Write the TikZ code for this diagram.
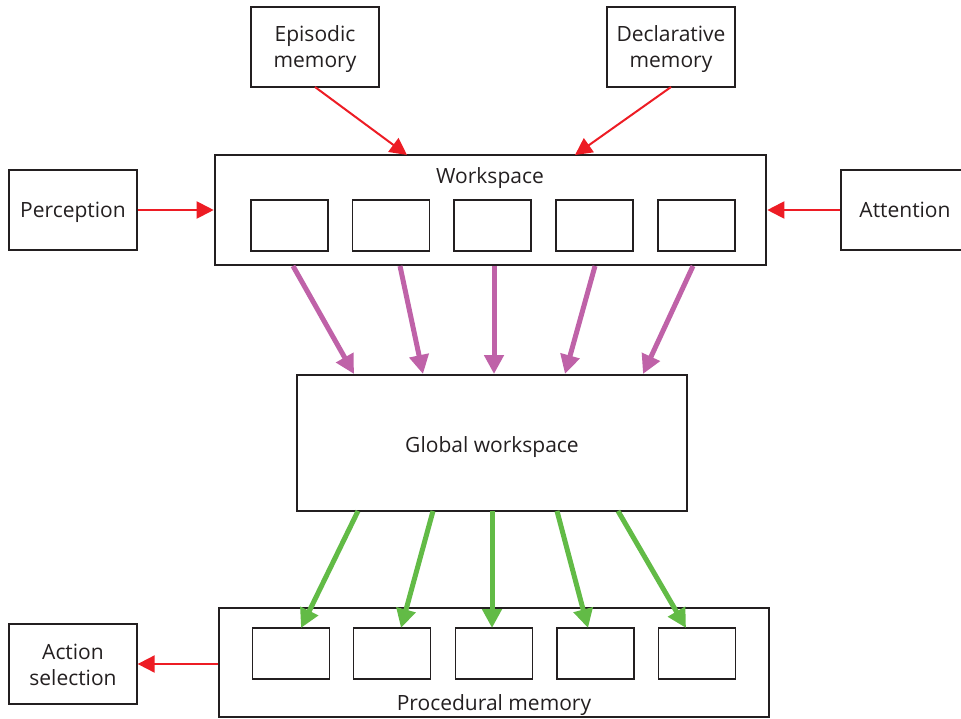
\documentclass[tikz,border=0pt]{standalone}
\usepackage{fontspec}
\setmainfont{Open Sans}
\usetikzlibrary{arrows.meta}
\definecolor{cred}{HTML}{ED1C24}
\definecolor{cpurple}{HTML}{BF62A8}
\definecolor{cgreen}{HTML}{62BB46}
\definecolor{cline}{HTML}{231F20}
\begin{document}
\begin{tikzpicture}[x=1pt,y=-1pt,
  every node/.style={font=\fontsize{21}{26}\selectfont, text=cline, inner sep=0pt, align=center},
  oneline/.style={text height=15pt, text depth=5pt},
  sidebox/.style={draw=cline, line width=1.3pt, minimum width=128pt, minimum height=80pt},
  bigbox/.style={draw=cline, line width=2.6pt},
  cellbox/.style={draw=cline, line width=1.3pt, minimum width=77pt, minimum height=51pt},
  redarrow/.style={draw=cred, line width=2pt, -{Triangle[length=17pt,width=17pt]}},
  purplearrow/.style={draw=cpurple, line width=5pt, -{Triangle[length=19pt,width=19pt]}},
  greenarrow/.style={draw=cgreen, line width=5pt, -{Triangle[length=19pt,width=19pt]}}]
\useasboundingbox (0,0) rectangle (961,718);
% side boxes
\node[sidebox] (epi) at (315,47) {};
\node[sidebox] (decl) at (671,47) {};
\node[sidebox] (perc) at (73,210) {};
\node[sidebox] (att) at (905,210) {};
\node[sidebox] (act) at (73,664) {};
\node (epiL) at (315,49.5) {Episodic\\memory};
\node (declL) at (671,49.5) {Declarative\\memory};
\node[oneline] (percL) at (73,212.5) {Perception};
\node[oneline] (attL) at (905,212.5) {Attention};
\node (actL) at (73,664.5) {Action\\selection};
% big boxes
\node[bigbox, minimum width=551pt, minimum height=110pt] (ws) at (490.5,210) {};
\node[bigbox, minimum width=390pt, minimum height=136pt] (gw) at (492,443) {};
\node[bigbox, minimum width=550pt, minimum height=109pt] (pm) at (494,662.5) {};
\node[oneline] (wslabel) at (490,178) {Workspace};
\node[oneline] (gwlabel) at (492,447) {Global workspace};
\node[oneline] (pmlabel) at (494,705.5) {Procedural memory};
% cells
\foreach \i/\x in {1/289.5,2/391,3/492.5,4/594.5,5/696.5}
  \node[cellbox] (w\i) at (\x,225.5) {};
\foreach \i/\x in {1/291,2/392,3/494,4/595.5,5/697}
  \node[cellbox] (p\i) at (\x,653.5) {};
% connector end points
\coordinate (epiS) at (315,87);
\coordinate (epiT) at (407,155);
\coordinate (declS) at (671,87);
\coordinate (declT) at (575,155);
\foreach \i/\a/\b in {1/293/354,2/400/423,3/494/494,4/595/565,5/693/643} {
  \coordinate (ps\i) at (\a,266);
  \coordinate (pt\i) at (\b,374);
}
\foreach \i/\a/\b in {1/358/301,2/433/401,3/492/492,4/557/588,5/618/686} {
  \coordinate (gs\i) at (\a,511);
  \coordinate (gt\i) at (\b,628);
}
% red arrows
\draw[redarrow] (epiS) -- (epiT);
\draw[redarrow] (declS) -- (declT);
\draw[redarrow] (perc.east) -- (ws.west);
\draw[redarrow] (att.west) -- (ws.east);
\draw[redarrow] (pm.west |- act.east) -- (act.east);
% purple arrows
\foreach \i in {1,...,5}
  \draw[purplearrow] (ps\i) -- (pt\i);
% green arrows
\foreach \i in {1,...,5}
  \draw[greenarrow] (gs\i) -- (gt\i);
\end{tikzpicture}
\end{document}
